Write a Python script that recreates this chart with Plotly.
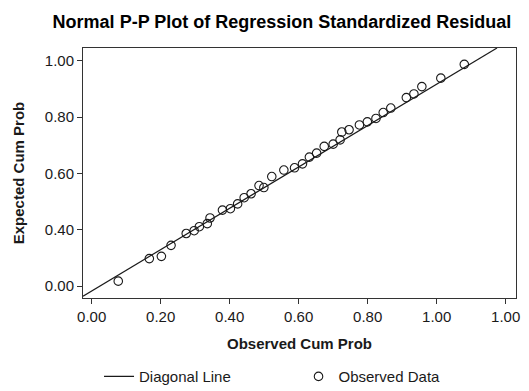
import plotly.graph_objects as go

obs_x = [0.077, 0.167, 0.202, 0.230, 0.274, 0.297, 0.312, 0.335, 0.343, 0.379,
         0.402, 0.423, 0.442, 0.462, 0.485, 0.499, 0.522, 0.557, 0.588, 0.611,
         0.631, 0.652, 0.674, 0.700, 0.720, 0.725, 0.746, 0.776, 0.799, 0.824,
         0.845, 0.867, 0.912, 0.934, 0.957, 1.012, 1.080]
obs_y = [0.018, 0.098, 0.106, 0.145, 0.187, 0.197, 0.211, 0.222, 0.242, 0.270,
         0.275, 0.292, 0.314, 0.328, 0.357, 0.350, 0.389, 0.412, 0.420, 0.434,
         0.458, 0.472, 0.496, 0.504, 0.519, 0.547, 0.555, 0.572, 0.583, 0.595,
         0.616, 0.632, 0.669, 0.682, 0.708, 0.738, 0.787]

# Diagonal reference line endpoints
diag_x = [-0.0252, 1.1748]
diag_y = [-0.0354, 0.845]

# Tick positions and labels (as shown in the reference)
x_tickvals = [0.0, 0.2, 0.4, 0.6, 0.8, 1.0, 1.2]
x_ticktext = ["0.00", "0.20", "0.40", "0.60", "0.80", "1.00", "1.00"]
y_tickvals = [0.0, 0.2, 0.4, 0.6, 0.8]
y_ticktext = ["0.00", "0.40", "0.60", "0.80", "1.00"]

FONT = "Liberation Sans, Arial, sans-serif"
INK = "#1a1a1a"

# The page body keeps the browser's default 8px margin, so the figure is
# sized to fill the remaining 521x383 area of the 529x391 window.
W, H = 521, 383

fig = go.Figure()
fig.add_trace(go.Scatter(
    x=diag_x, y=diag_y, mode="lines", name="Diagonal Line",
    line=dict(color=INK, width=1.2)))
fig.add_trace(go.Scatter(
    x=obs_x, y=obs_y, mode="markers", name="Observed Data",
    marker=dict(symbol="circle-open", size=8.5, color=INK,
                line=dict(width=1.1, color=INK))))

fig.update_layout(
    width=W, height=H,
    margin=dict(l=75, r=13, t=40, b=92.5, autoexpand=False),
    paper_bgcolor="white", plot_bgcolor="white",
    font=dict(family=FONT, color=INK, size=15),
    title=dict(text="<b>Normal P-P Plot of Regression Standardized Residual</b>",
               x=274 / W, xanchor="center", y=1 - 14 / H, yanchor="middle",
               font=dict(size=18, color="#000000")),
    showlegend=True,
    legend=dict(orientation="h", x=0.037, xanchor="left", y=-0.2485, yanchor="top",
                font=dict(size=15), entrywidth=154.5, entrywidthmode="pixels",
                bgcolor="rgba(0,0,0,0)"),
)
fig.update_xaxes(
    range=[-0.0252, 1.2299], tickvals=x_tickvals, ticktext=x_ticktext,
    showline=True, linecolor="#333333", linewidth=1, mirror=True,
    ticks="outside", ticklen=5, tickcolor="#333333", showgrid=False, zeroline=False,
    title=dict(text="<b>Observed Cum Prob</b>", font=dict(size=15), standoff=14))
fig.update_yaxes(
    range=[-0.0418, 0.845], tickvals=y_tickvals, ticktext=y_ticktext,
    showline=True, linecolor="#333333", linewidth=1, mirror=True,
    ticks="outside", ticklen=5, tickcolor="#333333", showgrid=False, zeroline=False,
    title=dict(text="<b>Expected Cum Prob</b>", font=dict(size=15), standoff=16))

fig.write_html("out.html")
